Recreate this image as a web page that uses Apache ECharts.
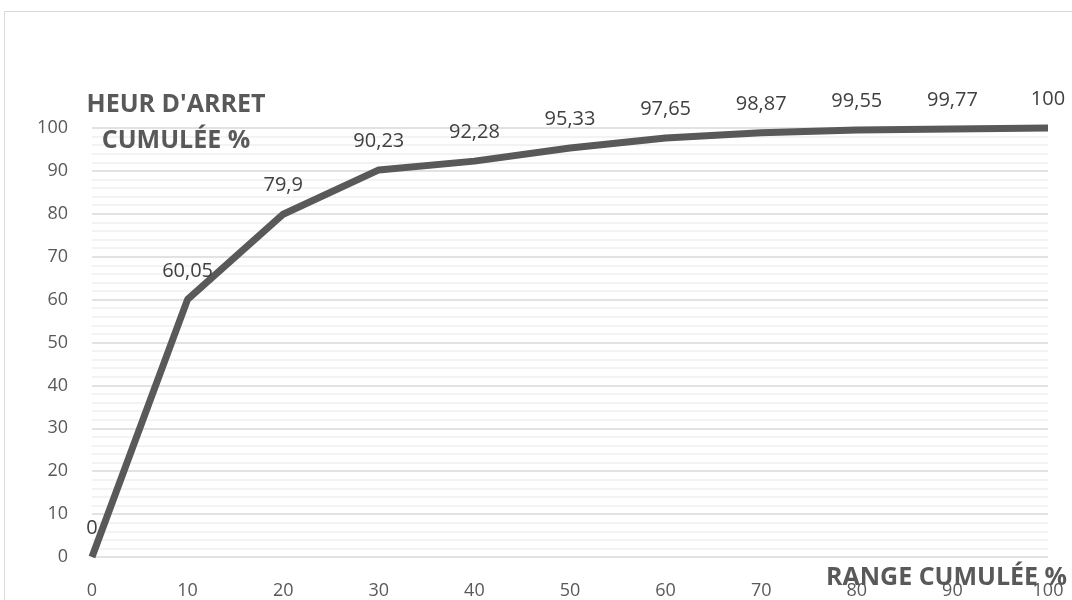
<!DOCTYPE html>
<html>
<head>
<meta charset="utf-8">
<script src="https://cdn.jsdelivr.net/npm/echarts@6/dist/echarts.min.js"></script>
<style>
  html, body { margin: 0; padding: 0; background: #fff; }
  #chart { width: 1072px; height: 600px; }
</style>
</head>
<body>
<div id="chart"></div>
<script>
// Cumulative range (%) against cumulative stoppage hours (%)
var rangeCumulee = [0, 10, 20, 30, 40, 50, 60, 70, 80, 90, 100];
var heuresCumulees = [0, 60.05, 79.9, 90.23, 92.28, 95.33, 97.65, 98.87, 99.55, 99.77, 100];
var yTitle = "HEUR D'ARRET\nCUMULÉE %";
var xTitle = 'RANGE CUMULÉE %';

var points = rangeCumulee.map(function (x, i) { return [x, heuresCumulees[i]]; });

var FONT = '"Open Sans", "Noto Sans", sans-serif';
var chart = echarts.init(document.getElementById('chart'), null, { renderer: 'canvas' });

chart.setOption({
  backgroundColor: '#ffffff',
  animation: false,
  grid: { left: 92, right: 24, top: 128, bottom: 42, containLabel: false },
  xAxis: {
    type: 'value', min: 0, max: 100, interval: 10,
    axisLine: { show: false }, axisTick: { show: false },
    splitLine: { show: false },
    axisLabel: { color: '#595959', fontSize: 18, fontFamily: FONT, margin: 25 }
  },
  yAxis: {
    type: 'value', min: 0, max: 100, interval: 10,
    axisLine: { show: false }, axisTick: { show: false },
    splitLine: { show: true, lineStyle: { color: '#d9d9d9', width: 1.5 } },
    minorTick: { show: false, splitNumber: 5 },
    minorSplitLine: { show: true, lineStyle: { color: '#efefef', width: 1.5 } },
    axisLabel: { color: '#595959', fontSize: 18, fontFamily: FONT, margin: 24 }
  },
  series: [{
    type: 'line',
    data: points,
    clip: false,
    symbol: 'circle',
    symbolSize: 1,
    itemStyle: { color: 'rgba(0,0,0,0)', borderWidth: 0 },
    lineStyle: { color: '#595959', width: 7 },
    label: {
      show: true, position: 'top', distance: 18,
      color: '#404040', fontSize: 20, fontFamily: FONT,
      formatter: function (p) { return String(p.value[1]).replace('.', ','); }
    },
    emphasis: { disabled: true }
  }],
  graphic: [
    {
      type: 'rect', silent: true, z: 0,
      shape: { x: 4.5, y: 11.5, width: 1200, height: 700 },
      style: { fill: 'none', stroke: '#d9d9d9', lineWidth: 1 }
    },
    {
      type: 'text', silent: true, z: 100,
      style: {
        text: yTitle, x: 176, y: 123, fill: '#595959', font: 'bold 25px ' + FONT,
        textAlign: 'center', textVerticalAlign: 'middle', lineHeight: 36
      }
    },
    {
      type: 'text', silent: true, z: 100,
      style: {
        text: xTitle, x: 826, y: 578, fill: '#595959', font: 'bold 25px ' + FONT,
        textAlign: 'left', textVerticalAlign: 'middle'
      }
    }
  ]
});
</script>
</body>
</html>
